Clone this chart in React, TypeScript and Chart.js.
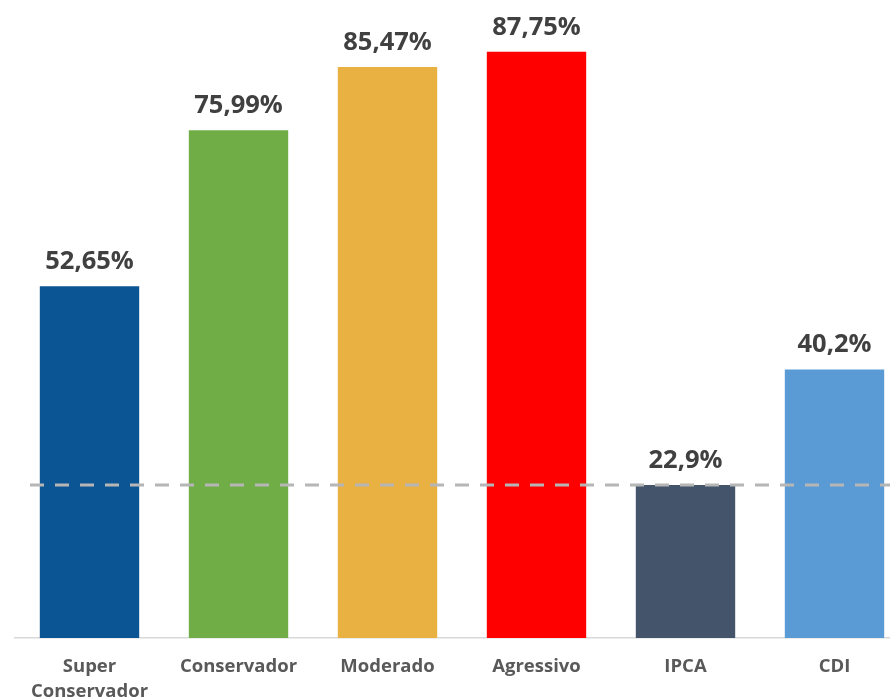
import React, { useEffect, useRef } from "react";
import { Chart, registerables } from "chart.js";

Chart.register(...registerables);

const categories: (string | string[])[] = [
  ["Super", "Conservador"],
  "Conservador",
  "Moderado",
  "Agressivo",
  "IPCA",
  "CDI",
];
const values = [52.65, 75.99, 85.47, 87.75, 22.9, 40.2];
const barColors = ["#0c5595", "#70ad47", "#e9b042", "#ff0000", "#44546a", "#5b9bd5"];
const referenceValue = 22.9;
const yMax = 95.5;

const fmt = (v: number) => v.toString().replace(".", ",") + "%";

const refLinePlugin = {
  id: "refLine",
  afterDatasetsDraw(chart: any) {
    const { ctx, chartArea, scales } = chart;
    const y = scales.y.getPixelForValue(referenceValue);
    ctx.save();
    ctx.strokeStyle = "#b6b6b6";
    ctx.lineWidth = 3;
    ctx.setLineDash([14, 11]);
    ctx.beginPath();
    ctx.moveTo(chartArea.left + 15, y);
    ctx.lineTo(chartArea.right, y);
    ctx.stroke();
    ctx.restore();
  },
};

const valueLabelPlugin = {
  id: "valueLabels",
  afterDatasetsDraw(chart: any) {
    const { ctx } = chart;
    const meta = chart.getDatasetMeta(0);
    ctx.save();
    ctx.font = "bold 25.5px 'Open Sans'";
    ctx.fillStyle = "#404040";
    ctx.textAlign = "center";
    ctx.textBaseline = "alphabetic";
    meta.data.forEach((bar: any, i: number) => {
      ctx.fillText(fmt(values[i]), bar.x, bar.y - 17);
    });
    ctx.restore();
  },
};

export default function App() {
  const ref = useRef<HTMLCanvasElement>(null);
  useEffect(() => {
    document.body.style.margin = "0";
    document.body.style.overflow = "hidden";
    document.documentElement.style.overflow = "hidden";
    if (!ref.current) return;
    const chart = new Chart(ref.current, {
      type: "bar",
      data: {
        labels: categories,
        datasets: [
          {
            data: values,
            backgroundColor: barColors,
            categoryPercentage: 0.667,
            barPercentage: 1,
          },
        ],
      },
      options: {
        animation: false,
        responsive: false,
        maintainAspectRatio: false,
        layout: { padding: { left: 15, right: 0, top: 0, bottom: 0 } },
        plugins: { legend: { display: false }, tooltip: { enabled: false } },
        scales: {
          x: {
            grid: { display: false, drawTicks: false },
            border: { display: true, color: "#d9d9d9", width: 1.5 },
            ticks: {
              padding: 16,
              color: "#595959",
              font: { family: "'Open Sans'", size: 18.5, weight: "bold", lineHeight: 1.35 },
              maxRotation: 0,
              autoSkip: false,
            },
            afterFit(scale: any) {
              scale.height = 61;
            },
          },
          y: {
            display: false,
            min: 0,
            max: yMax,
          },
        },
      },
      plugins: [refLinePlugin, valueLabelPlugin],
    } as any);
    return () => chart.destroy();
  }, []);
  return (
    <div style={{ width: 890, height: 699, overflow: "hidden", position: "relative" }}>
      <canvas ref={ref} width={909} height={699} style={{ display: "block", width: 909, height: 699 }} />
    </div>
  );
}
